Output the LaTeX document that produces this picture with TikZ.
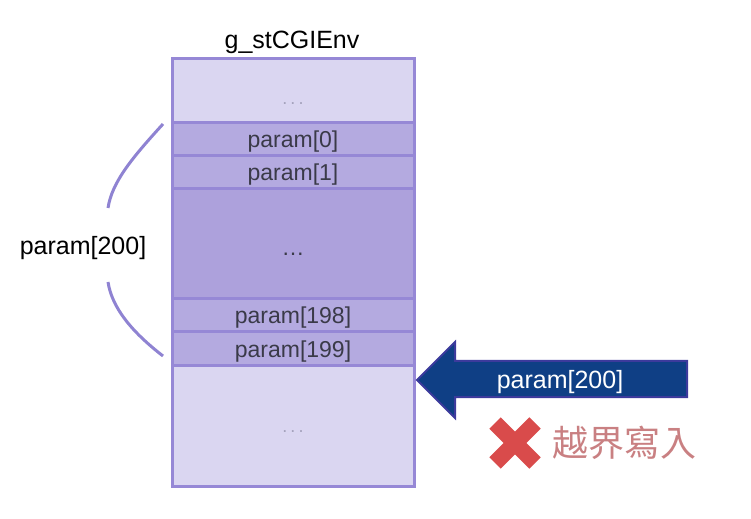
\documentclass[tikz,border=0pt]{standalone}
\usepackage{fontspec}
\setmainfont{Liberation Sans}
\newfontfamily\cjkfont{Noto Sans CJK TC}
\usetikzlibrary{positioning}
\definecolor{cellline}{HTML}{9688D6}
\definecolor{celllight}{HTML}{DAD6F1}
\definecolor{cellmid}{HTML}{B4AAE0}
\definecolor{celldark}{HTML}{ADA1DC}
\definecolor{celltext}{HTML}{3A3A48}
\definecolor{dotgray}{HTML}{A4A2BC}
\definecolor{arrowfill}{HTML}{0F3F85}
\definecolor{arrowline}{HTML}{3C3A9C}
\definecolor{crossred}{HTML}{D94B4B}
\definecolor{warntext}{HTML}{C98082}
\definecolor{bracecol}{HTML}{8F83D2}
\tikzset{
  cell/.style={draw=cellline, line width=1.5pt, fill=cellmid, minimum width=121pt, inner sep=0pt, outer sep=0pt, font=\fontsize{11.5}{13}\selectfont, text=celltext, text depth=0pt},
  cellp/.style={cell, minimum height=16.5pt},
  cellgap/.style={cell, fill=celllight, text=dotgray, font=\fontsize{9}{10}\selectfont},
  brc/.style={draw=bracecol, line width=1.5pt},
  lbl/.style={font=\fontsize{12.5}{15}\selectfont},
}

\begin{document}
\begin{tikzpicture}[x=0.5pt, y=-0.5pt]
  \useasboundingbox (0,0) rectangle (751,519);
  % memory layout of the struct
  \node[cellgap, minimum height=32pt, text height=13.5pt, anchor=north west] (top) at (172,59) {.\,.\,.};
  \node[cellp, below=0pt of top] (p0) {param[0]};
  \node[cellp, below=0pt of p0] (p1) {param[1]};
  \node[cell, fill=celldark, minimum height=55pt, text height=12pt, below=0pt of p1] (mid) {\dots};
  \node[cellp, below=0pt of mid] (p198) {param[198]};
  \node[cellp, minimum height=17pt, below=0pt of p198] (p199) {param[199]};
  \node[cellgap, minimum height=60pt, text height=6pt, below=0pt of p199] (bot) {.\,.\,.};
  \node[lbl, text depth=0pt] (title) at (292,40) {g\_stCGIEnv};

  % brace round the array
  \node[lbl] (arrlbl) at (83,248) {param[200]};
  \draw[brc] (163,124) .. controls (132,158) and (112,182) .. (108,208);
  \draw[brc] (108,282) .. controls (112,308) and (132,332) .. (163,356);

  % overflowing write
  \draw[arrowline, fill=arrowfill, line width=1pt, line join=miter]
    (417,380) -- (455,342) -- (455,361) -- (687,361) -- (687,397) -- (455,397) -- (455,418) -- cycle;
  \node[lbl, text=white, text depth=0pt] (wr) at (560,379) {param[200]};

  \coordinate (x) at (515,443);
  \draw[crossred, line width=8pt] ([shift={(-20,-20)}]x) -- ([shift={(20,20)}]x);
  \draw[crossred, line width=8pt] ([shift={(-20,20)}]x) -- ([shift={(20,-20)}]x);
  \node[text=warntext, font=\cjkfont\fontsize{18}{20}\selectfont] (warn) at (624,443) {越界寫入};
\end{tikzpicture}
\end{document}
